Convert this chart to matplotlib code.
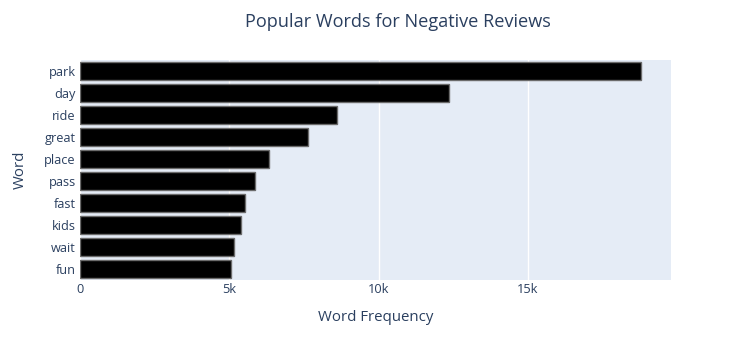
import matplotlib.pyplot as plt
from matplotlib.ticker import FuncFormatter

plt.rcParams["font.family"] = ["Open Sans", "DejaVu Sans"]

words = ["park", "day", "ride", "great", "place", "pass", "fast", "kids", "wait", "fun"]
counts = [18790, 12360, 8600, 7640, 6320, 5860, 5530, 5380, 5160, 5070]

TXT = "#2a3f5f"

fig = plt.figure(figsize=(7.51, 3.6), dpi=100)
ax = fig.add_axes([80 / 751, 80 / 360, 590.7 / 751, 220 / 360])
ax.set_facecolor("#e5ecf6")

pos = list(range(len(words)))[::-1]
ax.barh(pos, counts, height=0.78, color="black", edgecolor="#6b6b6b", linewidth=1, zorder=3)

ax.set_xlim(0, 19782)
ax.set_ylim(-0.5, len(words) - 0.5)
ax.set_yticks(pos)
ax.set_yticklabels(words)
ax.set_xticks([0, 5000, 10000, 15000])
ax.xaxis.set_major_formatter(FuncFormatter(lambda v, p: "0" if v == 0 else f"{int(v / 1000)}k"))
ax.grid(axis="x", color="white", linewidth=1, zorder=0)
for s in ax.spines.values():
    s.set_visible(False)
ax.tick_params(length=0, labelsize=9.2, colors=TXT, pad=3)
ax.tick_params(axis="x", pad=2.5)

ax.set_xlabel("Word Frequency", fontsize=10.8, color=TXT, labelpad=10)
ax.set_ylabel("Word", fontsize=10.8, color=TXT, labelpad=12)
fig.text(398 / 751, 1 - 22 / 360, "Popular Words for Negative Reviews",
         ha="center", va="center", fontsize=13.1, color=TXT)

fig.savefig("out.png", dpi=100)
